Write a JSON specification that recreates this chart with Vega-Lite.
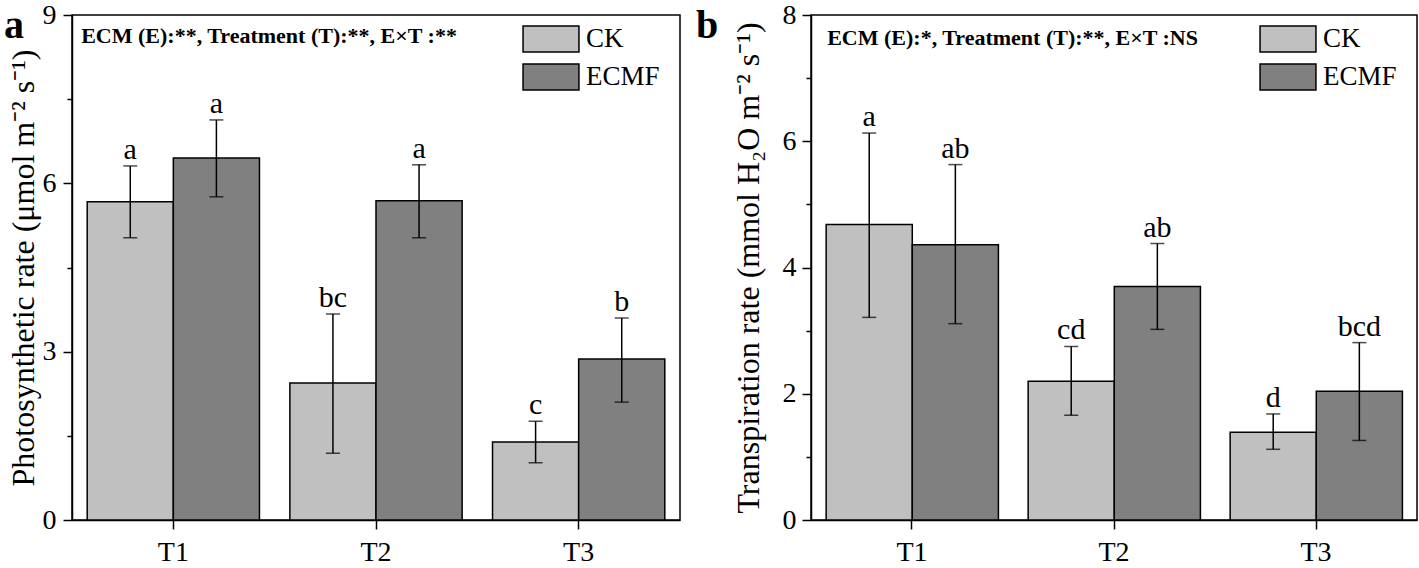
{
  "$schema": "https://vega.github.io/schema/vega-lite/v6.json",
  "background": "white",
  "padding": {"left": 3, "top": 0, "right": 0, "bottom": 0},
  "config": {
    "font": "Liberation Serif",
    "view": {"stroke": "black", "strokeWidth": 1.5},
    "axis": {
      "labelFont": "Liberation Serif", "labelFontSize": 28, "labelColor": "black",
      "titleFont": "Liberation Serif", "titleFontSize": 32, "titleFontWeight": "normal", "titleColor": "black",
      "domainColor": "black", "domainWidth": 1.5, "tickColor": "black", "tickWidth": 1.5, "grid": false
    },
    "legend": {
      "labelFont": "Liberation Serif", "labelFontSize": 27, "labelColor": "black",
      "symbolType": "M-2.15,-1H2.15V1H-2.15Z", "symbolSize": 676, "symbolStrokeColor": "black",
      "symbolStrokeWidth": 1.5, "symbolOpacity": 1, "labelOffset": 21, "rowPadding": 6, "title": null, "padding": 0
    }
  },
  "datasets": {
    "photo": [
      {"Treatment": "T1", "Group": "CK", "mean": 5.67, "lo": 5.03, "hi": 6.31, "letter": "a"},
      {"Treatment": "T1", "Group": "ECMF", "mean": 6.45, "lo": 5.76, "hi": 7.13, "letter": "a"},
      {"Treatment": "T2", "Group": "CK", "mean": 2.44, "lo": 1.19, "hi": 3.67, "letter": "bc"},
      {"Treatment": "T2", "Group": "ECMF", "mean": 5.69, "lo": 5.03, "hi": 6.33, "letter": "a"},
      {"Treatment": "T3", "Group": "CK", "mean": 1.39, "lo": 1.02, "hi": 1.76, "letter": "c"},
      {"Treatment": "T3", "Group": "ECMF", "mean": 2.87, "lo": 2.10, "hi": 3.60, "letter": "b"}
    ],
    "trans": [
      {"Treatment": "T1", "Group": "CK", "mean": 4.68, "lo": 3.21, "hi": 6.13, "letter": "a"},
      {"Treatment": "T1", "Group": "ECMF", "mean": 4.36, "lo": 3.11, "hi": 5.63, "letter": "ab"},
      {"Treatment": "T2", "Group": "CK", "mean": 2.20, "lo": 1.66, "hi": 2.75, "letter": "cd"},
      {"Treatment": "T2", "Group": "ECMF", "mean": 3.70, "lo": 3.02, "hi": 4.38, "letter": "ab"},
      {"Treatment": "T3", "Group": "CK", "mean": 1.39, "lo": 1.12, "hi": 1.68, "letter": "d"},
      {"Treatment": "T3", "Group": "ECMF", "mean": 2.04, "lo": 1.26, "hi": 2.81, "letter": "bcd"}
    ]
  },
  "resolve": {"scale": {"color": "independent"}, "legend": {"color": "independent"}},
  "spacing": 14,
  "hconcat": [
    {
      "width": 608, "height": 505,
      "title": {"text": "a", "anchor": "start", "frame": "bounds", "fontSize": 40, "fontWeight": "bold", "font": "Liberation Serif", "color": "black", "offset": -45, "dx": -3},
      "data": {"name": "photo"},
      "layer": [
        {
          "mark": {"type": "bar", "stroke": "black", "strokeWidth": 1.5},
          "encoding": {
            "x": {"field": "Treatment", "type": "nominal", "scale": {"paddingInner": 0.15, "paddingOuter": 0.075},
                  "axis": {"title": null, "labelAngle": 0, "tickSize": 9, "labelPadding": 9, "bandPosition": 0.5}},
            "xOffset": {"field": "Group", "type": "nominal", "scale": {"paddingInner": 0, "paddingOuter": 0}},
            "y": {"field": "mean", "type": "quantitative", "scale": {"domain": [0, 9], "nice": false},
                  "axis": {"title": "Photosynthetic rate (μmol m⁻² s⁻¹)", "values": [0, 1.5, 3, 4.5, 6, 7.5, 9],
                           "labelExpr": "datum.value % 3 === 0 ? format(datum.value, 'd') : ''",
                           "tickSize": {"condition": {"test": "datum.value % 3 === 0", "value": 9}, "value": 5},
                           "labelPadding": 7, "titlePadding": 2}},
            "color": {"field": "Group", "type": "nominal", "scale": {"domain": ["CK", "ECMF"], "range": ["#c0c0c0", "#808080"]},
                      "legend": {"orient": "none", "legendX": 465, "legendY": 10}}
          }
        },
        {
          "mark": {"type": "rule", "color": "black", "strokeWidth": 1.5},
          "encoding": {
            "x": {"field": "Treatment", "type": "nominal"},
            "xOffset": {"field": "Group", "type": "nominal"},
            "y": {"field": "lo", "type": "quantitative"},
            "y2": {"field": "hi"}
          }
        },
        {
          "mark": {"type": "tick", "orient": "horizontal", "color": "black", "size": 14, "thickness": 1.5},
          "encoding": {
            "x": {"field": "Treatment", "type": "nominal"},
            "xOffset": {"field": "Group", "type": "nominal"},
            "y": {"field": "hi", "type": "quantitative"}
          }
        },
        {
          "mark": {"type": "tick", "orient": "horizontal", "color": "black", "size": 14, "thickness": 1.5},
          "encoding": {
            "x": {"field": "Treatment", "type": "nominal"},
            "xOffset": {"field": "Group", "type": "nominal"},
            "y": {"field": "lo", "type": "quantitative"}
          }
        },
        {
          "mark": {"type": "text", "fontSize": 30, "baseline": "bottom", "dy": -1, "color": "black", "font": "Liberation Serif"},
          "encoding": {
            "x": {"field": "Treatment", "type": "nominal"},
            "xOffset": {"field": "Group", "type": "nominal"},
            "y": {"field": "hi", "type": "quantitative"},
            "text": {"field": "letter"}
          }
        },
        {
          "data": {"values": [{"note": "ECM (E):**, Treatment (T):**, E×T :**"}]},
          "mark": {"type": "text", "fontSize": 22, "fontWeight": "bold", "align": "left", "baseline": "middle", "dx": -6, "color": "black", "font": "Liberation Serif"},
          "encoding": {
            "x": {"datum": "T1", "type": "nominal", "bandPosition": 0},
            "y": {"datum": 8.62, "type": "quantitative"},
            "text": {"field": "note"}
          }
        }
      ]
    },
    {
      "width": 606, "height": 505,
      "title": {"text": "b", "anchor": "start", "frame": "bounds", "fontSize": 40, "fontWeight": "bold", "font": "Liberation Serif", "color": "black", "offset": -45, "dx": -36},
      "data": {"name": "trans"},
      "layer": [
        {
          "mark": {"type": "bar", "stroke": "black", "strokeWidth": 1.5},
          "encoding": {
            "x": {"field": "Treatment", "type": "nominal", "scale": {"paddingInner": 0.15, "paddingOuter": 0.075},
                  "axis": {"title": null, "labelAngle": 0, "tickSize": 9, "labelPadding": 9, "bandPosition": 0.5}},
            "xOffset": {"field": "Group", "type": "nominal", "scale": {"paddingInner": 0, "paddingOuter": 0}},
            "y": {"field": "mean", "type": "quantitative", "scale": {"domain": [0, 8], "nice": false},
                  "axis": {"title": "Transpiration rate (mmol H₂O m⁻² s⁻¹)", "values": [0, 1, 2, 3, 4, 5, 6, 7, 8],
                           "labelExpr": "datum.value % 2 === 0 ? format(datum.value, 'd') : ''",
                           "tickSize": {"condition": {"test": "datum.value % 2 === 0", "value": 9}, "value": 5},
                           "labelPadding": 6, "titlePadding": 17}},
            "color": {"field": "Group", "type": "nominal", "scale": {"domain": ["CK", "ECMF"], "range": ["#c0c0c0", "#808080"]},
                      "legend": {"orient": "none", "legendX": 463, "legendY": 10}}
          }
        },
        {
          "mark": {"type": "rule", "color": "black", "strokeWidth": 1.5},
          "encoding": {
            "x": {"field": "Treatment", "type": "nominal"},
            "xOffset": {"field": "Group", "type": "nominal"},
            "y": {"field": "lo", "type": "quantitative"},
            "y2": {"field": "hi"}
          }
        },
        {
          "mark": {"type": "tick", "orient": "horizontal", "color": "black", "size": 14, "thickness": 1.5},
          "encoding": {
            "x": {"field": "Treatment", "type": "nominal"},
            "xOffset": {"field": "Group", "type": "nominal"},
            "y": {"field": "hi", "type": "quantitative"}
          }
        },
        {
          "mark": {"type": "tick", "orient": "horizontal", "color": "black", "size": 14, "thickness": 1.5},
          "encoding": {
            "x": {"field": "Treatment", "type": "nominal"},
            "xOffset": {"field": "Group", "type": "nominal"},
            "y": {"field": "lo", "type": "quantitative"}
          }
        },
        {
          "mark": {"type": "text", "fontSize": 30, "baseline": "bottom", "dy": -1, "color": "black", "font": "Liberation Serif"},
          "encoding": {
            "x": {"field": "Treatment", "type": "nominal"},
            "xOffset": {"field": "Group", "type": "nominal"},
            "y": {"field": "hi", "type": "quantitative"},
            "text": {"field": "letter"}
          }
        },
        {
          "data": {"values": [{"note": "ECM (E):*, Treatment (T):**, E×T :NS"}]},
          "mark": {"type": "text", "fontSize": 22, "fontWeight": "bold", "align": "left", "baseline": "middle", "dx": 1, "color": "black", "font": "Liberation Serif"},
          "encoding": {
            "x": {"datum": "T1", "type": "nominal", "bandPosition": 0},
            "y": {"datum": 7.63, "type": "quantitative"},
            "text": {"field": "note"}
          }
        }
      ]
    }
  ]
}
